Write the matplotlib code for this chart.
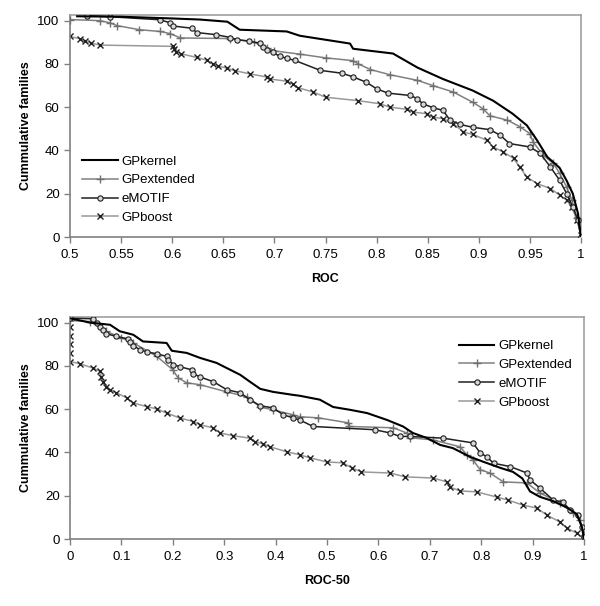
import matplotlib
matplotlib.use("Agg")
import matplotlib.pyplot as plt

plt.rcParams['font.family'] = ['Liberation Sans', 'DejaVu Sans']

# ---- ROC panel (top) ----
roc_kernel_x = [0.507, 0.55, 0.60, 0.627, 0.654, 0.666, 0.712, 0.725, 0.774, 0.777, 0.816,
                0.84, 0.865, 0.894, 0.914, 0.933, 0.947, 0.957, 0.967, 0.979, 0.986,
                0.992, 0.997, 1.0]
roc_kernel_y = [102, 101.8, 101, 100.5, 99.5, 95.8, 95, 93, 89.4, 87, 84.8,
                78.3, 73, 67.7, 63, 57, 51.6, 44.7, 37, 32, 26,
                20, 11, 0]

roc_ext_x = [0.5, 0.529, 0.539, 0.546, 0.568, 0.588, 0.598, 0.608, 0.657, 0.68, 0.693,
             0.70, 0.725, 0.75, 0.777, 0.782, 0.794, 0.813, 0.84, 0.855, 0.875,
             0.894, 0.904, 0.911, 0.928, 0.94, 0.95, 0.953, 0.963, 0.973, 0.979,
             0.986, 0.991, 0.996, 1.0]
roc_ext_y = [100.5, 100, 99, 97.7, 95.8, 95, 94, 92, 91.7, 90, 87.5,
             86, 84.5, 82.8, 81.5, 80, 77.4, 75, 72.4, 70, 67,
             62.3, 59.3, 56, 54, 51, 47.8, 44, 37.8, 34, 29.5,
             23, 17, 9, 0]

roc_emotif_x = [0.517, 0.539, 0.588, 0.598, 0.601, 0.619, 0.624, 0.643, 0.657, 0.663, 0.675,
                0.686, 0.689, 0.693, 0.699, 0.705, 0.712, 0.72, 0.745, 0.766, 0.777,
                0.79, 0.80, 0.811, 0.833, 0.84, 0.845, 0.855, 0.865, 0.872, 0.882,
                0.894, 0.911, 0.921, 0.93, 0.95, 0.96, 0.97, 0.979, 0.986, 0.992,
                0.997, 1.0]
roc_emotif_y = [102.3, 101.8, 100.4, 99, 97.5, 96.5, 94.5, 93.5, 92.2, 91.2, 90.6,
                89.5, 87.6, 86.5, 85.3, 83.5, 82.6, 81.6, 77, 75.7, 74,
                71.5, 68.5, 66.5, 65.4, 63.9, 61.6, 59.8, 58.5, 53.9, 52,
                50.7, 49.6, 47, 43.2, 41.6, 38.7, 32.4, 26.3, 20, 13.8,
                7.8, 0]

roc_boost_x = [0.5, 0.51, 0.515, 0.521, 0.529, 0.601, 0.602, 0.604, 0.609, 0.624, 0.634,
               0.64, 0.645, 0.654, 0.661, 0.676, 0.693, 0.696, 0.712, 0.718, 0.723,
               0.738, 0.75, 0.782, 0.803, 0.813, 0.83, 0.836, 0.849, 0.855, 0.865,
               0.875, 0.885, 0.894, 0.908, 0.914, 0.924, 0.934, 0.94, 0.947, 0.957,
               0.97, 0.979, 0.986, 0.991, 0.996, 1.0]
roc_boost_y = [92.7, 91.6, 90.4, 89.6, 88.7, 88.1, 87, 85.6, 84.6, 83, 81.7,
               79.8, 79, 78, 76.9, 75.4, 73.9, 73, 72, 70.7, 69,
               67, 64.6, 63, 61.6, 60, 59, 57.7, 57, 55.4, 54.7,
               52.4, 48.5, 47.4, 44.7, 41.6, 39.3, 36.3, 32.4, 27.7, 24.7,
               22.4, 19.4, 17, 13.8, 7.8, 1]

# ---- ROC-50 panel (bottom) ----
r50_kernel_x = [0.0, 0.039, 0.078, 0.097, 0.123, 0.142, 0.188, 0.198, 0.227, 0.253, 0.285,
                0.305, 0.331, 0.35, 0.37, 0.395, 0.434, 0.447, 0.486, 0.512, 0.545,
                0.578, 0.617, 0.648, 0.667, 0.694, 0.72, 0.745, 0.778, 0.804, 0.837,
                0.862, 0.88, 0.895, 0.914, 0.94, 0.967, 0.986, 0.996, 1.0]
r50_kernel_y = [102, 100, 99, 96, 94.4, 91.3, 90.6, 87, 86, 83.7, 81.4,
                79, 75.9, 72.7, 69.4, 68, 66.6, 66.2, 64.4, 61, 59.7,
                58.2, 55, 52, 49, 46.7, 43.5, 42, 38, 35.7, 32.9,
                31, 28, 22, 19.5, 17.5, 14.5, 11.5, 5.5, 0]

r50_ext_x = [0.0, 0.039, 0.07, 0.1, 0.123, 0.169, 0.20, 0.21, 0.227, 0.253, 0.305,
             0.344, 0.37, 0.395, 0.434, 0.447, 0.483, 0.541, 0.543, 0.629, 0.655,
             0.661, 0.706, 0.759, 0.772, 0.784, 0.798, 0.817, 0.843, 0.889, 0.914,
             0.953, 0.979, 0.992, 1.0]
r50_ext_y = [101, 100.5, 96, 93, 90.7, 84.4, 78.2, 74.5, 72.2, 71.3, 68,
             65.7, 61, 59.7, 57.4, 56.5, 56, 53.7, 52, 51.4, 49,
             46.8, 45.8, 42.6, 38.9, 36.6, 32, 30.5, 26.4, 25.9, 21.3,
             16.7, 12, 8.8, 2]

r50_emotif_x = [0.0, 0.045, 0.052, 0.058, 0.064, 0.071, 0.09, 0.113, 0.117, 0.123, 0.136,
                0.149, 0.169, 0.188, 0.191, 0.201, 0.214, 0.237, 0.24, 0.253, 0.279,
                0.305, 0.331, 0.35, 0.37, 0.395, 0.415, 0.434, 0.447, 0.473, 0.593,
                0.623, 0.642, 0.661, 0.726, 0.784, 0.798, 0.811, 0.824, 0.856, 0.889,
                0.895, 0.914, 0.94, 0.959, 0.973, 0.988, 0.996, 1.0]
r50_emotif_y = [102, 101.8, 100, 98, 96.8, 94.9, 93.6, 92.5, 91.2, 89.4, 87.5,
                86.5, 85.6, 84.4, 82.9, 80.6, 79.6, 78.2, 76.4, 74.9, 72.7,
                69, 67.6, 64.4, 61.6, 60.6, 57.4, 56, 55, 52, 50.5,
                49, 47.4, 47.4, 46.6, 44.4, 39.8, 38, 35, 33.5, 30.5,
                27.3, 23.6, 18, 17.1, 13.4, 11, 5.5, 1]

r50_boost_x = [0.0, 0.0, 0.0, 0.0, 0.0, 0.0, 0.019, 0.045, 0.058, 0.061, 0.065,
               0.071, 0.078, 0.09, 0.11, 0.123, 0.149, 0.169, 0.188, 0.214, 0.24,
               0.253, 0.279, 0.292, 0.318, 0.35, 0.36, 0.376, 0.389, 0.422, 0.447,
               0.467, 0.5, 0.531, 0.548, 0.567, 0.623, 0.652, 0.706, 0.733, 0.739,
               0.759, 0.791, 0.83, 0.852, 0.881, 0.908, 0.928, 0.953, 0.967, 0.986,
               1.0]
r50_boost_y = [102, 98, 94, 90, 86, 82, 81, 79, 77.5, 75, 72.7,
               70.4, 69, 67.6, 65.3, 62.9, 61.2, 60.1, 58.2, 55.9, 54.3,
               52.8, 51.3, 49, 47.7, 46.6, 45, 43.9, 42.6, 40.3, 38.9,
               37.5, 35.6, 35.2, 32.9, 31, 30.5, 28.7, 28.2, 26.4, 24,
               22.2, 21.8, 19.4, 18, 15.7, 14.3, 11, 7.9, 5, 2.7,
               0]

labels = ['GPkernel', 'GPextended', 'eMOTIF', 'GPboost']


def draw_panel(ax, series, xlim, xticks, xticklabels, xlabel):
    kern, ext, emo, boost = series
    ax.plot(kern[0], kern[1], color='black', lw=1.5, label=labels[0], zorder=4)
    ax.plot(ext[0], ext[1], color='#808080', lw=1.1, marker='+', ms=6,
            mew=1.0, mec='#707070', label=labels[1], zorder=3)
    ax.plot(emo[0], emo[1], color='#202020', lw=1.1, marker='o', ms=3.8,
            mfc='#d8d8d8', mec='#202020', mew=0.8, label=labels[2], zorder=3)
    ax.plot(boost[0], boost[1], color='#999999', lw=1.1, marker='x', ms=5,
            mew=1.0, mec='#202020', label=labels[3], zorder=2)

    ax.set_xlim(*xlim)
    ax.set_ylim(0, 102.6)
    ax.set_xticks(xticks)
    ax.set_xticklabels(xticklabels)
    ax.set_yticks([0, 20, 40, 60, 80, 100])
    ax.set_xlabel(xlabel, fontsize=9, fontweight='bold', labelpad=8)
    ax.set_ylabel('Cummulative families', fontsize=9, fontweight='bold', labelpad=4)
    ax.tick_params(axis='both', labelsize=9.5, direction='out', length=4,
                   width=1, color='#808080')
    ax.tick_params(axis='x', pad=5)
    for side in ['top', 'right']:
        ax.spines[side].set_color('#a0a0a0')
        ax.spines[side].set_linewidth(1.2)
    for side in ['left', 'bottom']:
        ax.spines[side].set_color('#808080')
        ax.spines[side].set_linewidth(1.2)


fig = plt.figure(figsize=(6.0, 6.06), dpi=100)

ax1 = fig.add_axes([70 / 600, 1 - 237 / 606, 511 / 600, 222 / 606])
draw_panel(ax1, [(roc_kernel_x, roc_kernel_y), (roc_ext_x, roc_ext_y),
                 (roc_emotif_x, roc_emotif_y), (roc_boost_x, roc_boost_y)],
           (0.5, 1.0), [0.5, 0.55, 0.6, 0.65, 0.7, 0.75, 0.8, 0.85, 0.9, 0.95, 1.0],
           ['0.5', '0.55', '0.6', '0.65', '0.7', '0.75', '0.8', '0.85', '0.9', '0.95', '1'],
           'ROC')
ax1.legend(loc='lower left', bbox_to_anchor=(0.0, 0.005), frameon=False, fontsize=9.5,
           handlelength=2.7, handletextpad=0.3, labelspacing=0.5)

ax2 = fig.add_axes([70 / 600, 1 - 539 / 606, 514 / 600, 222 / 606])
draw_panel(ax2, [(r50_kernel_x, r50_kernel_y), (r50_ext_x, r50_ext_y),
                 (r50_emotif_x, r50_emotif_y), (r50_boost_x, r50_boost_y)],
           (0.0, 1.0), [0, 0.1, 0.2, 0.3, 0.4, 0.5, 0.6, 0.7, 0.8, 0.9, 1.0],
           ['0', '0.1', '0.2', '0.3', '0.4', '0.5', '0.6', '0.7', '0.8', '0.9', '1'],
           'ROC-50')
ax2.legend(loc='upper right', bbox_to_anchor=(1.0, 0.95), frameon=False, fontsize=9.5,
           handlelength=2.7, handletextpad=0.3, labelspacing=0.5)

fig.savefig('out.png', dpi=100)
